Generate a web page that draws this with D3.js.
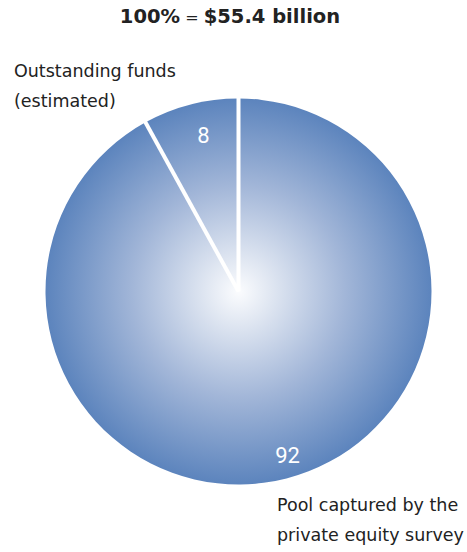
<!DOCTYPE html>
<html>
<head>
<meta charset="utf-8">
<script src="https://cdn.jsdelivr.net/npm/d3@7/dist/d3.min.js"></script>
<style>
  html, body { margin: 0; padding: 0; background: #fff; }
  svg { display: block; font-family: "DejaVu Sans", "Liberation Sans", sans-serif; }
</style>
</head>
<body>
<svg id="chart" width="467" height="552"></svg>
<script>
// Shares of total funds, in percent
const categories = ["Outstanding funds (estimated)", "Pool captured by the private equity survey"];
const shares = [8, 92];
const totalLabel = "$55.4 billion";

const svg = d3.select("#chart");
const cx = 238.5, cy = 291.5, radius = 193;

// Radial fade from a pale centre out to steel blue at the rim
const defs = svg.append("defs");
const grad = defs.append("radialGradient")
  .attr("id", "pieFill")
  .attr("gradientUnits", "userSpaceOnUse")
  .attr("cx", 0).attr("cy", 0).attr("r", radius);
grad.append("stop").attr("offset", "0%").attr("stop-color", "#fbfcfe");
grad.append("stop").attr("offset", "15%").attr("stop-color", "#e3e9f3");
grad.append("stop").attr("offset", "55%").attr("stop-color", "#a2b6d8");
grad.append("stop").attr("offset", "100%").attr("stop-color", "#5c84bd");

// Title
const title = svg.append("text")
  .attr("x", 230).attr("y", 23)
  .attr("text-anchor", "middle")
  .attr("fill", "#222")
  .attr("font-size", 19.5);
title.append("tspan").attr("font-weight", "bold").text("100%");
title.append("tspan").attr("font-size", 16).text(" = ");
title.append("tspan").attr("font-weight", "bold").text(totalLabel);

// Pie: slices run clockwise, the small slice ending at 12 o'clock
const offset = 2 * Math.PI * shares[0] / 100;
const pie = d3.pie().sort(null).value(d => d)
  .startAngle(-offset)
  .endAngle(2 * Math.PI - offset);
const arcs = pie(shares);
const arc = d3.arc().innerRadius(0).outerRadius(radius);

const g = svg.append("g").attr("transform", `translate(${cx},${cy})`);
g.selectAll("path.slice")
  .data(arcs)
  .join("path")
  .attr("class", "slice")
  .attr("d", arc)
  .attr("fill", "url(#pieFill)");

// White dividers along slice boundaries
g.selectAll("line.divider")
  .data(arcs)
  .join("line")
  .attr("class", "divider")
  .attr("x1", 0).attr("y1", 0)
  .attr("x2", d => radius * 1.01 * Math.sin(d.startAngle))
  .attr("y2", d => -radius * 1.01 * Math.cos(d.startAngle))
  .attr("stroke", "#fff")
  .attr("stroke-width", 4);

// Value labels inside slices
const labelRadius = [0.83, 0.885];
const labelAngles = [(arcs[0].startAngle + arcs[0].endAngle) / 2 + 0.03, 2.85];
g.selectAll("text.value")
  .data(arcs)
  .join("text")
  .attr("class", "value")
  .attr("x", (d, i) => radius * labelRadius[i] * Math.sin(labelAngles[i]))
  .attr("y", (d, i) => -radius * labelRadius[i] * Math.cos(labelAngles[i]))
  .attr("dy", "0.36em")
  .attr("text-anchor", "middle")
  .attr("fill", "#fff")
  .attr("font-family", "Roboto, 'Liberation Sans', sans-serif")
  .attr("font-size", 22)
  .text(d => d.value);

// Category labels outside the pie
const labelLines = [
  { x: 14, y: 77, lines: ["Outstanding funds", "(estimated)"] },
  { x: 277, y: 511, lines: ["Pool captured by the", "private equity survey"] }
];
labelLines.forEach(l => {
  const t = svg.append("text")
    .attr("x", l.x).attr("y", l.y)
    .attr("fill", "#222")
    .attr("font-size", 17.5);
  l.lines.forEach((s, i) => {
    t.append("tspan").attr("x", l.x).attr("dy", i === 0 ? 0 : 30).text(s);
  });
});
</script>
</body>
</html>
